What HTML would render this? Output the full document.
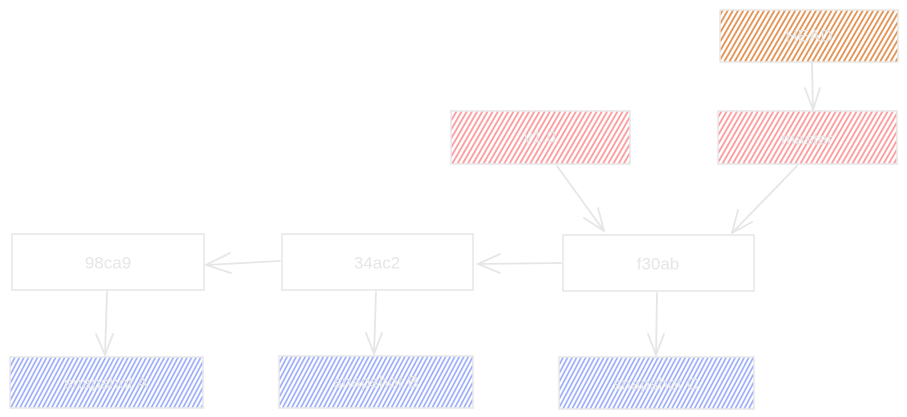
<!DOCTYPE html>
<html><head><meta charset="utf-8"><style>
html,body{margin:0;padding:0;background:#fff;}
svg{display:block}
text{font-family:"Liberation Sans",sans-serif;font-size:17px;fill:#e6e6e6;text-anchor:middle;dominant-baseline:central}
</style></head><body>
<svg width="907" height="417" viewBox="0 0 907 417" xmlns="http://www.w3.org/2000/svg">
<defs>
<pattern id="po" width="4.5" height="6" patternUnits="userSpaceOnUse" patternTransform="rotate(30)">
<line x1="1" y1="0" x2="1" y2="6" stroke="#e09050" stroke-width="1.8"/></pattern>
<pattern id="pr" width="4.5" height="6" patternUnits="userSpaceOnUse" patternTransform="rotate(30)">
<line x1="1" y1="0" x2="1" y2="6" stroke="#fa9a9e" stroke-width="1.8"/></pattern>
<pattern id="pb" width="4" height="6" patternUnits="userSpaceOnUse" patternTransform="rotate(28)">
<line x1="1" y1="0" x2="1" y2="6" stroke="#95a8fa" stroke-width="1.6"/></pattern>
</defs>
<g stroke="#e8e8e8" stroke-width="1.6">
<rect x="720" y="10" width="178" height="52" fill="url(#po)"/>
<rect x="451" y="111" width="179" height="53" fill="url(#pr)"/>
<rect x="718" y="111" width="179" height="53" fill="url(#pr)"/>
<rect x="12" y="234" width="192" height="56" fill="#fff"/>
<rect x="282" y="234" width="191" height="56" fill="#fff"/>
<rect x="563" y="235" width="191" height="56" fill="#fff"/>
<rect x="10" y="357" width="193" height="51" fill="url(#pb)"/>
<rect x="279" y="356" width="194" height="52" fill="url(#pb)"/>
<rect x="559" y="357" width="195" height="52" fill="url(#pb)"/>
</g>
<g stroke="#e6e6e6" stroke-width="1.8" fill="none" stroke-linecap="round">
<path d="M812 63 L813 110 M805 88 L813 110 L820 88"/>
<path d="M557 166 L604 231 M584 218 L604 231 L598 208"/>
<path d="M797 166 L732 233 M738 210 L732 233 L752 222"/>
<path d="M561 263 L478 264 M500 254 L478 264 L500 273"/>
<path d="M280 261 L206 265 M230 253 L206 265 L231 273"/>
<path d="M107 292 L105 355 M96 334 L105 355 L113 334"/>
<path d="M376 292 L374 354 M366 333 L374 354 L382 333"/>
<path d="M657 293 L656 355 M648 334 L656 355 L664 334"/>
</g>
<text x="809" y="36">HEAD</text>
<text x="540" y="137">v1.0</text>
<text x="807" y="139">master</text>
<text x="108" y="263">98ca9</text>
<text x="377" y="263">34ac2</text>
<text x="658" y="264">f30ab</text>
<text x="106" y="383">snapshot A</text>
<text x="376" y="382">snapshot B</text>
<text x="656" y="384">snapshot C</text>
</svg>
</body></html>
